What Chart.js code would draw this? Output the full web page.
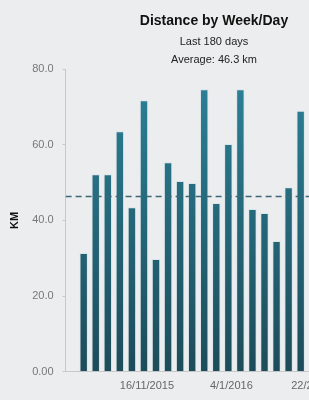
<!DOCTYPE html>
<html>
<head>
<meta charset="utf-8">
<script src="https://cdn.jsdelivr.net/npm/chart.js@4.4.0/dist/chart.umd.min.js"></script>
<style>
    html, body { margin: 0; padding: 0; background: #ecedef; overflow: hidden; }
    #wrap { width: 430px; height: 400px; }
</style>
</head>
<body>
<div id="wrap"><canvas id="distance-graph-canvas" width="430" height="400"></canvas></div>
<script>
// weekly distance in km, one per week, oldest first
const distances = [31.4, 52.2, 52.2, 63.6, 43.5, 71.8, 29.8, 55.4, 50.4, 49.9,
                   74.7, 44.6, 60.2, 74.7, 43.0, 42.0, 34.6, 48.8, 69.0];
const average = 46.3;

// week index -> tick label
const tickWeeks = [5, 12, 19];
const tickLabels = ['16/11/2015', '4/1/2016', '22/2/2016'];

const yTicks = [0, 20, 40, 60, 80];

const FONT = '"Helvetica Neue", Helvetica, "Liberation Sans", Arial, sans-serif';

function drawGraph() {
    const ctx = document.getElementById('distance-graph-canvas');

    let barData = distances.map((d, i) => ({x: i, y: d}));
    let avgData = [{x: -1.5, y: average}, {x: 40, y: average}];

    new Chart(ctx, {
    data: {
        datasets: [
            {
                type: 'line',
                data: avgData,
                borderColor: '#3b6876',
                borderWidth: 1.5,
                borderDash: [6, 4],
                pointRadius: 0,
                order: 0
            },
            {
                type: 'bar',
                data: barData,
                backgroundColor: function(c) {
                    const area = c.chart.chartArea;
                    if (!area) return '#276a7c';
                    let g = c.chart.ctx.createLinearGradient(0, area.top, 0, area.bottom);
                    g.addColorStop(0, '#2c8299');
                    g.addColorStop(1, '#1d4c5a');
                    return g;
                },
                borderColor: 'rgba(215,228,232,0.9)',
                borderWidth: 1,
                categoryPercentage: 1,
                barPercentage: 0.7,
                order: 1
            }
        ]
    },
    options: {
        responsive: false,
        animation: false,
        layout: { padding: { left: 8, right: 10, top: 0, bottom: 7 } },
        plugins: {
            legend: { display: false },
            tooltip: { enabled: false },
            title: {
                display: true,
                text: 'Distance by Week/Day',
                color: '#111',
                font: { family: FONT, size: 14, weight: 'bold' },
                padding: { top: 13, bottom: 3 }
            },
            subtitle: {
                display: true,
                text: ['Last 180 days', 'Average: ' + average + ' km'],
                color: '#222',
                font: { family: FONT, size: 11, lineHeight: 1.65 },
                padding: { top: 0, bottom: 0 }
            }
        },
        scales: {
            x: {
                type: 'linear',
                offset: false,
                min: -1.5,
                max: 27.9,
                afterBuildTicks: function(scale) {
                    scale.ticks = tickWeeks.map(v => ({value: v}));
                },
                ticks: {
                    autoSkip: false,
                    maxRotation: 0,
                    labelOffset: 3,
                    padding: 0,
                    color: '#666',
                    font: { family: FONT, size: 11 },
                    callback: function(v) {
                        let i = tickWeeks.indexOf(v);
                        return i >= 0 ? tickLabels[i] : '';
                    }
                },
                grid: { display: false },
                border: { color: '#c8c8c8', width: 1 }
            },
            y: {
                min: 0,
                max: 80,
                afterBuildTicks: function(scale) {
                    scale.ticks = yTicks.map(v => ({value: v}));
                },
                ticks: {
                    padding: 9,
                    color: '#777',
                    font: { family: FONT, size: 11 },
                    callback: function(v) {
                        return v == 0 ? '0.00' : v.toFixed(1);
                    }
                },
                grid: {
                    drawOnChartArea: false,
                    tickLength: 3,
                    color: '#c8c8c8'
                },
                border: { color: '#c8c8c8', width: 1 },
                title: {
                    display: true,
                    text: 'KM',
                    color: '#111',
                    font: { family: FONT, size: 11, weight: 'bold' },
                    padding: { top: 0, bottom: 2 }
                }
            }
        }
    }
    });
}

drawGraph();
</script>
</body>
</html>
